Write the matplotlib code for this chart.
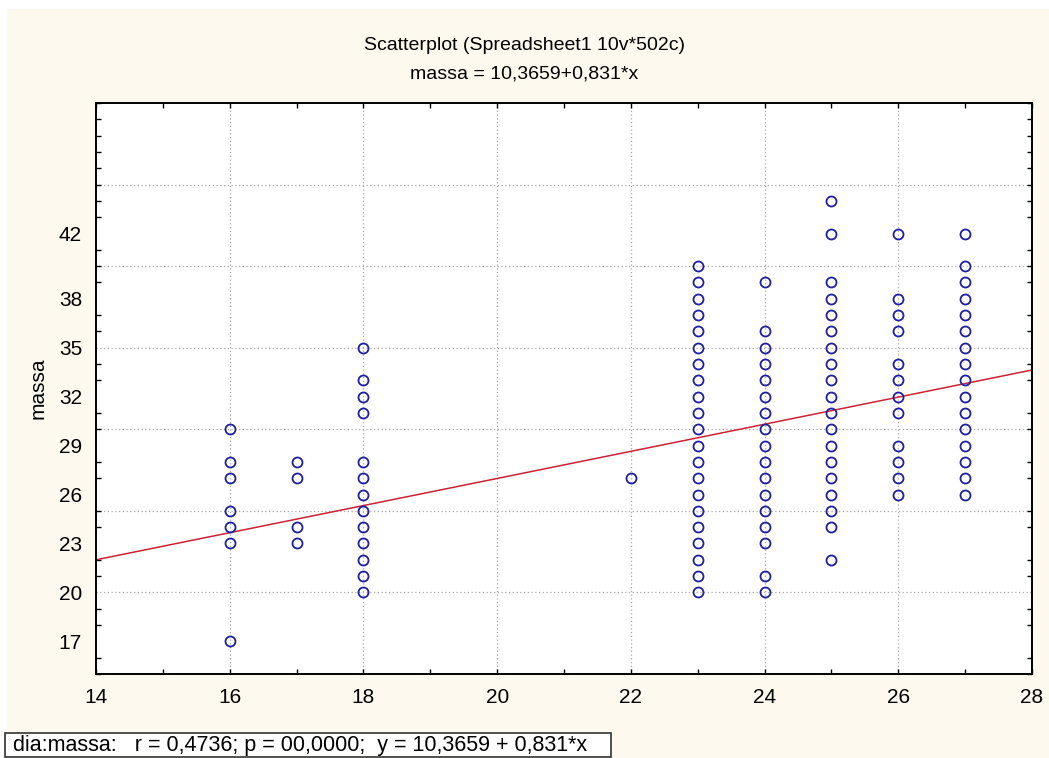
#!/usr/bin/env python

import numpy as np
import matplotlib.pyplot as plt
from matplotlib.patches import Rectangle

#################################################

# - massa readings grouped by dia
dia_levels = [16, 17, 18, 22, 23, 24, 25, 26, 27]
massa_16 = [30, 28, 27, 25, 24, 23, 17]
massa_17 = [28, 27, 24, 23]
massa_18 = [35, 33, 32, 31, 28, 27, 26, 25, 24, 23, 22, 21, 20]
massa_22 = [27]
massa_23 = [40, 39, 38, 37, 36, 35, 34, 33, 32, 31, 30, 29, 28, 27, 26, 25, 24, 23, 22, 21, 20]
massa_24 = [39, 36, 35, 34, 33, 32, 31, 30, 29, 28, 27, 26, 25, 24, 23, 21, 20]
massa_25 = [44, 42, 39, 38, 37, 36, 35, 34, 33, 32, 31, 30, 29, 28, 27, 26, 25, 24, 22]
massa_26 = [42, 38, 37, 36, 34, 33, 32, 31, 29, 28, 27, 26]
massa_27 = [42, 40, 39, 38, 37, 36, 35, 34, 33, 32, 31, 30, 29, 28, 27, 26]

# - linear fit reported by the package
intercept = 10.3659
slope = 0.831

# - axis ticks and labels
x_ticks = [14, 16, 18, 20, 22, 24, 26, 28]
y_ticks = [17, 20, 23, 26, 29, 32, 35, 38, 42]
y_grid = [20, 25, 30, 35, 40, 45]

groups = [massa_16, massa_17, massa_18, massa_22, massa_23,
          massa_24, massa_25, massa_26, massa_27]
dia = np.concatenate([[d] * len(m) for d, m in zip(dia_levels, groups)])
massa = np.concatenate(groups)

plt.rcParams['font.family'] = ['Liberation Sans', 'DejaVu Sans']

W, H = 1049, 758
fig = plt.figure(figsize=(W / 100, H / 100), dpi=100, facecolor='white')

# - cream panel behind the plot
fig.patches.append(Rectangle((7 / W, 0), 1 - 7 / W, 1 - 9 / H, transform=fig.transFigure,
                             facecolor='#fdf9ee', edgecolor='none', zorder=-10))

ax = fig.add_axes([96 / W, 1 - 674 / H, (1032 - 96) / W, (674 - 103) / H])
ax.set_facecolor('white')

# - scatter
ax.plot(dia, massa, 'o', mfc='none', mec='#1f1fa6', mew=1.3, ms=7.2, zorder=3)

# - regression line
xl = np.array([14, 28])
ax.plot(xl, intercept + slope * xl, color='#cc2233', lw=1.1, zorder=2)

ax.set_xlim(14, 28)
ax.set_ylim(15, 50)

ax.set_xticks(x_ticks)
ax.set_xticks(np.arange(14, 29, 1), minor=True)
ax.set_yticks(y_ticks)
ax.set_yticks(np.arange(15, 51, 1), minor=True)

ax.tick_params(which='both', direction='in', top=True, right=True, color='black')
ax.tick_params(which='minor', length=3.5, width=1)
ax.tick_params(axis='x', which='major', length=3.5, width=1, labelsize=15, pad=10)
ax.tick_params(axis='y', which='major', length=0, labelsize=15, pad=10)

# - dotted grid
for gx in x_ticks[1:-1]:
    ax.axvline(gx, color='#a8a8a8', lw=0.9, ls=(0, (1, 2)), zorder=1)
for gy in y_grid:
    ax.axhline(gy, color='#a8a8a8', lw=0.9, ls=(0, (1, 2)), zorder=1)

for s in ax.spines.values():
    s.set_linewidth(1.4)

ax.set_ylabel('massa', fontsize=15, labelpad=8)

# - titles
fig.text(0.5, 1 - 46 / H, 'Scatterplot (Spreadsheet1 10v*502c)', ha='center', va='center', fontsize=14)
fig.text(0.5, 1 - 74 / H, 'massa = 10,3659+0,831*x', ha='center', va='center', fontsize=14)

# - stats box
fig.patches.append(Rectangle((5 / W, 1 - 757 / H), 606 / W, 24 / H, transform=fig.transFigure,
                             facecolor='white', edgecolor='#333333', lw=1.2))
fig.text(13 / W, 1 - 745 / H, 'dia:massa:   r = 0,4736; p = 00,0000;  y = 10,3659 + 0,831*x',
         ha='left', va='center', fontsize=15.5)

plt.savefig('out.png', dpi=100, facecolor=fig.get_facecolor())
